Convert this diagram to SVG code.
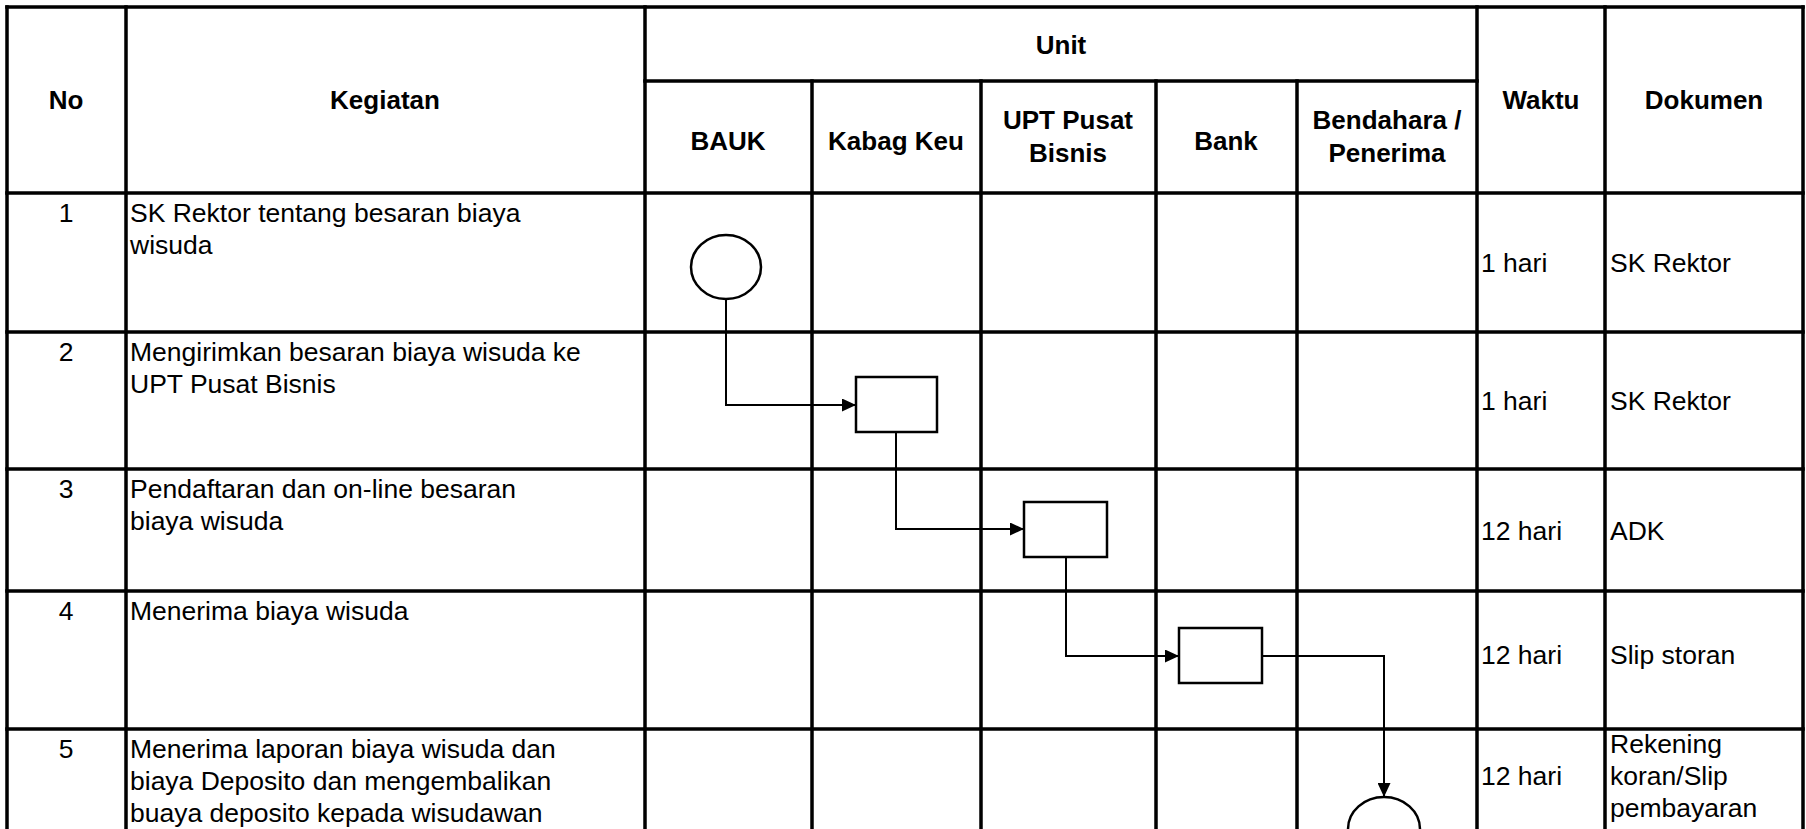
<svg xmlns="http://www.w3.org/2000/svg" width="1806" height="829" viewBox="0 0 1806 829">
<style>
.grid{stroke:#000;stroke-width:3.5;fill:none;stroke-linecap:square}
.hd{font-family:"Liberation Sans",Arial,sans-serif;font-size:26px;font-weight:bold;fill:#000;text-anchor:middle}
.tx{font-family:"Liberation Sans",Arial,sans-serif;font-size:26.5px;fill:#000}
.num{text-anchor:middle}
.shape{fill:#fff;stroke:#000;stroke-width:2.5}
.conn{fill:none;stroke:#000;stroke-width:2}
</style>
<defs>
<marker id="arr" markerUnits="userSpaceOnUse" markerWidth="15" markerHeight="13" refX="14" refY="6.5" orient="auto">
<path d="M0,0 L14,6.5 L0,13 z" fill="#000"/>
</marker>
</defs>
<rect width="1806" height="829" fill="#fff"/>
<g id="table">
<path class="grid" d="M7,7 H1803 M645,81 H1477 M7,193 H1803 M7,332 H1803 M7,469 H1803 M7,591 H1803 M7,729 H1803"/>
<path class="grid" d="M7,7 V829 M126,7 V829 M645,7 V829 M1477,7 V829 M1605,7 V829 M1803,7 V829 M812,81 V829 M981,81 V829 M1156,81 V829 M1297,81 V829"/>
</g>
<g id="header">
<text class="hd" x="66" y="109">No</text>
<text class="hd" x="385" y="109">Kegiatan</text>
<text class="hd" x="1061" y="54">Unit</text>
<text class="hd" x="728" y="150">BAUK</text>
<text class="hd" x="896" y="150">Kabag Keu</text>
<text class="hd" x="1068" y="129">UPT Pusat</text>
<text class="hd" x="1068" y="162">Bisnis</text>
<text class="hd" x="1226" y="150">Bank</text>
<text class="hd" x="1387" y="129">Bendahara /</text>
<text class="hd" x="1387" y="162">Penerima</text>
<text class="hd" x="1541" y="109">Waktu</text>
<text class="hd" x="1704" y="109">Dokumen</text>
</g>
<g id="row1">
<text class="tx num" x="66" y="222">1</text>
<text class="tx" x="130" y="222">SK Rektor tentang besaran biaya</text>
<text class="tx" x="130" y="254">wisuda</text>
<text class="tx" x="1481" y="272">1 hari</text>
<text class="tx" x="1610" y="272">SK Rektor</text>
</g>
<g id="row2">
<text class="tx num" x="66" y="361">2</text>
<text class="tx" x="130" y="361">Mengirimkan besaran biaya wisuda ke</text>
<text class="tx" x="130" y="393">UPT Pusat Bisnis</text>
<text class="tx" x="1481" y="410">1 hari</text>
<text class="tx" x="1610" y="410">SK Rektor</text>
</g>
<g id="row3">
<text class="tx num" x="66" y="498">3</text>
<text class="tx" x="130" y="498">Pendaftaran dan on-line besaran</text>
<text class="tx" x="130" y="530">biaya wisuda</text>
<text class="tx" x="1481" y="540">12 hari</text>
<text class="tx" x="1610" y="540">ADK</text>
</g>
<g id="row4">
<text class="tx num" x="66" y="620">4</text>
<text class="tx" x="130" y="620">Menerima biaya wisuda</text>
<text class="tx" x="1481" y="664">12 hari</text>
<text class="tx" x="1610" y="664">Slip storan</text>
</g>
<g id="row5">
<text class="tx num" x="66" y="758">5</text>
<text class="tx" x="130" y="758">Menerima laporan biaya wisuda dan</text>
<text class="tx" x="130" y="790">biaya Deposito dan mengembalikan</text>
<text class="tx" x="130" y="822">buaya deposito kepada wisudawan</text>
<text class="tx" x="1481" y="785">12 hari</text>
<text class="tx" x="1610" y="753">Rekening</text>
<text class="tx" x="1610" y="785">koran/Slip</text>
<text class="tx" x="1610" y="817">pembayaran</text>
</g>
<g id="connectors">
<path class="conn" d="M726,299 V405 H856" marker-end="url(#arr)"/>
<path class="conn" d="M896,432 V529 H1024" marker-end="url(#arr)"/>
<path class="conn" d="M1066,557 V656 H1179" marker-end="url(#arr)"/>
<path class="conn" d="M1262,656 H1384 V797" marker-end="url(#arr)"/>
</g>
<g id="start">
<ellipse class="shape" cx="726" cy="267" rx="35" ry="32"/>
</g>
<g id="kabag-box">
<rect class="shape" x="856" y="377" width="81" height="55"/>
</g>
<g id="upt-box">
<rect class="shape" x="1024" y="502" width="83" height="55"/>
</g>
<g id="bank-box">
<rect class="shape" x="1179" y="628" width="83" height="55"/>
</g>
<g id="end">
<ellipse class="shape" cx="1384" cy="829" rx="36" ry="32"/>
</g>
</svg>
